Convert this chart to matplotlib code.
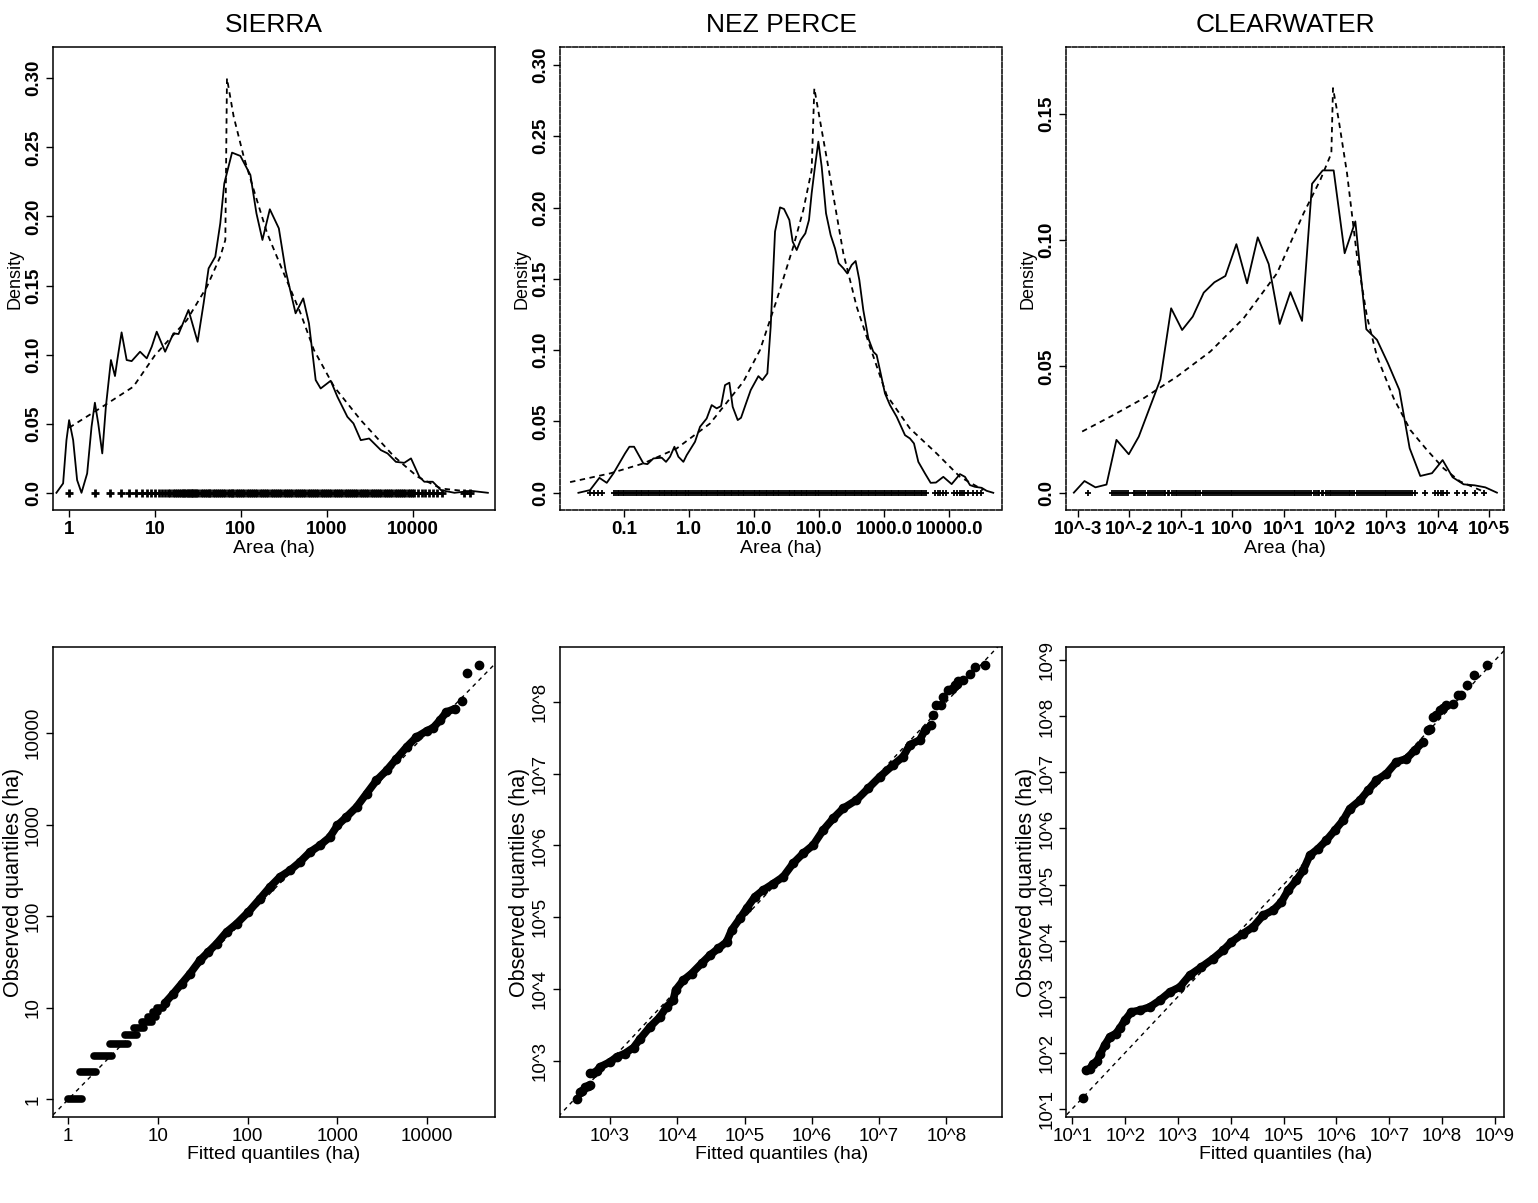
import numpy as np
import matplotlib.pyplot as plt
from matplotlib.ticker import NullLocator

plt.rcParams['font.family'] = ['Liberation Sans', 'DejaVu Sans']

# ---------------- density panels (x stored as log10 of area in ha) ----------------
sierra_kde_logA = [-0.148, -0.070, -0.031, 0.0, 0.047, 0.093, 0.144, 0.210, 0.261, 0.300, 0.339, 0.386,
                   0.428, 0.487, 0.534, 0.561, 0.611, 0.670, 0.728, 0.826, 0.904, 0.962, 1.020, 1.118,
                   1.215, 1.274, 1.390, 1.496, 1.566, 1.624, 1.702, 1.760, 1.807, 1.897, 1.994, 2.111,
                   2.181, 2.251, 2.337, 2.442, 2.520, 2.637, 2.726, 2.793, 2.871, 2.929, 3.046, 3.124,
                   3.240, 3.311, 3.396, 3.494, 3.630, 3.708, 3.805, 3.903, 3.981, 4.078, 4.136, 4.234,
                   4.331, 4.487, 4.682, 4.876]
sierra_kde = [0.0, 0.0068, 0.0381, 0.0526, 0.0381, 0.0092, 0.0, 0.014, 0.0478, 0.0652, 0.0502, 0.0285,
              0.0623, 0.0961, 0.0845, 0.0961, 0.1161, 0.0961, 0.0953, 0.1021, 0.0973, 0.1057, 0.1166, 0.1021,
              0.1154, 0.1149, 0.1323, 0.1093, 0.1371, 0.1624, 0.1709, 0.1950, 0.2240, 0.2462, 0.2438, 0.2300,
              0.2023, 0.1830, 0.2052, 0.1914, 0.1612, 0.1299, 0.1407, 0.1226, 0.0816, 0.0755, 0.0811, 0.0695,
              0.0550, 0.0502, 0.0381, 0.0393, 0.0309, 0.0285, 0.0224, 0.0217, 0.0249, 0.0116, 0.0080, 0.0080,
              0.0019, 0.0, 0.0014, 0.0]
sierra_fit_logA = [0.0, 0.358, 0.748, 1.001, 1.371, 1.605, 1.760, 1.819, 1.838, 1.916, 2.033, 2.150,
                   2.306, 2.500, 2.695, 2.851, 3.085, 3.396, 3.786, 4.058, 4.331, 4.720]
sierra_fit = [0.0471, 0.0611, 0.0768, 0.0997, 0.1250, 0.1492, 0.1709, 0.1830, 0.300, 0.2723, 0.2433, 0.2192,
              0.1878, 0.1588, 0.1299, 0.1033, 0.0768, 0.0526, 0.0261, 0.0116, 0.0031, 0.0005]
sierra_rug = [1, 2, 3, 4, 5, 6, 7, 8, 9, 10, 11, 12, 13, 14, 15, 16, 17, 18, 19, 20, 21, 22, 23, 24, 25,
              26, 27, 28, 29, 30, 32, 34, 36, 38, 40, 42, 44, 47, 50, 53, 56, 59, 62, 66, 70, 74, 78, 82,
              87, 92, 97, 103, 110, 117, 124, 131, 139, 147, 156, 165, 175, 186, 197, 209, 222, 235, 249,
              264, 280, 297, 315, 334, 354, 375, 398, 422, 447, 474, 502, 532, 564, 598, 634, 672, 712,
              755, 800, 848, 899, 953, 1010, 1070, 1135, 1200, 1275, 1350, 1430, 1520, 1610, 1705, 1810,
              1920, 2030, 2150, 2280, 2420, 2570, 2720, 2880, 3050, 3240, 3430, 3640, 3860, 4090, 4330,
              4590, 4870, 5160, 5470, 5800, 6150, 6520, 6910, 7320, 7760, 8230, 8720, 9250, 9800, 10400,
              11500, 12700, 14000, 15500, 17200, 19000, 22000, 40000, 47000]

nez_kde_logA = [-1.702, -1.523, -1.379, -1.266, -1.164, -0.985, -0.918, -0.846, -0.703, -0.641, -0.549,
                -0.421, -0.355, -0.293, -0.226, -0.165, -0.088, -0.037, 0.091, 0.168, 0.270, 0.347, 0.424,
                0.491, 0.552, 0.619, 0.670, 0.747, 0.798, 0.875, 0.947, 1.065, 1.126, 1.203, 1.254, 1.321,
                1.398, 1.459, 1.541, 1.592, 1.654, 1.715, 1.787, 1.843, 1.884, 1.935, 1.987, 2.038, 2.105,
                2.176, 2.243, 2.299, 2.371, 2.432, 2.499, 2.560, 2.617, 2.678, 2.755, 2.832, 2.883, 2.945,
                3.011, 3.088, 3.191, 3.319, 3.395, 3.457, 3.524, 3.626, 3.713, 3.795, 3.908, 4.036, 4.164,
                4.241, 4.318, 4.394, 4.497, 4.574, 4.676]
nez_kde = [0.0, 0.0019, 0.0105, 0.0070, 0.0136, 0.0276, 0.0323, 0.0323, 0.0206, 0.0201, 0.0241,
           0.0246, 0.0217, 0.0253, 0.0323, 0.0253, 0.0217, 0.0264, 0.0358, 0.0463, 0.0521, 0.0615, 0.0592,
           0.0608, 0.0755, 0.0772, 0.0603, 0.0510, 0.0526, 0.0627, 0.0720, 0.0818, 0.0790, 0.0837, 0.1164,
           0.1831, 0.2001, 0.1990, 0.1913, 0.1761, 0.1702, 0.1772, 0.1819, 0.1913, 0.2100, 0.2287, 0.2462,
           0.2287, 0.1959, 0.1807, 0.1714, 0.1609, 0.1574, 0.1538, 0.1597, 0.1625, 0.1492, 0.1281, 0.1083,
           0.0989, 0.0966, 0.0837, 0.0697, 0.0615, 0.0533, 0.0404, 0.0381, 0.0346, 0.0217, 0.0136, 0.0070,
           0.0072, 0.0112, 0.0061, 0.0131, 0.0112, 0.0054, 0.0042, 0.0035, 0.0014, 0.0]
nez_fit_logA = [-1.830, -1.215, -0.703, -0.191, 0.322, 0.834, 1.090, 1.346, 1.602, 1.756, 1.884, 1.925,
                2.038, 2.166, 2.371, 2.576, 2.781, 3.037, 3.395, 3.805, 4.164, 4.523]
nez_fit = [0.0075, 0.0136, 0.0206, 0.0311, 0.0486, 0.0779, 0.1001, 0.1351, 0.1726, 0.1983, 0.2263, 0.2836,
           0.2544, 0.2217, 0.1679, 0.1305, 0.1024, 0.0685, 0.0451, 0.0276, 0.0112, 0.0019]
nez_rug = [0.03, 0.035, 0.04, 0.045, 0.07, 0.075, 0.08, 0.085, 0.09, 0.095, 0.1, 0.107, 0.115, 0.123,
           0.132, 0.14, 0.15, 0.16, 0.17, 0.18, 0.19, 0.2, 0.215, 0.23, 0.245, 0.26, 0.28, 0.3, 0.32,
           0.34, 0.36, 0.38, 0.41, 0.43, 0.46, 0.49, 0.52, 0.55, 0.59, 0.62, 0.66, 0.7, 0.75, 0.8, 0.85,
           0.9, 0.95, 1.0, 1.07, 1.15, 1.22, 1.3, 1.4, 1.5, 1.6, 1.7, 1.8, 1.9, 2.05, 2.2, 2.35, 2.5,
           2.65, 2.8, 3.0, 3.2, 3.4, 3.6, 3.85, 4.1, 4.35, 4.6, 4.9, 5.2, 5.55, 5.9, 6.3, 6.7, 7.1,
           7.6, 8.1, 8.6, 9.2, 9.8, 10.4, 11, 11.7, 12.5, 13.3, 14, 15, 16, 17, 18, 19.2, 20.5, 21.8,
           23, 24.5, 26, 28, 30, 32, 34, 36, 38, 40.5, 43, 46, 49, 52, 55, 58.5, 62, 66, 70, 75, 80,
           85, 90, 95, 100, 107, 115, 122, 130, 140, 150, 160, 170, 180, 190, 203, 215, 230, 245, 262,
           280, 297, 315, 337, 360, 382, 405, 432, 460, 490, 520, 555, 590, 630, 670, 715, 760, 810,
           860, 920, 980, 1040, 1100, 1170, 1250, 1330, 1420, 1510, 1600, 1700, 1820, 1940, 2060,
           2190, 2330, 2480, 2640, 2820, 3000, 3200, 3400, 3620, 3850, 4100, 4350, 6000, 6600, 7200,
           8000, 8800, 12000, 13200, 14500, 15700, 17000, 19500, 23000, 27000, 31000]

clear_kde_logA = [-3.084, -2.877, -2.663, -2.448, -2.254, -2.014, -1.819, -1.624, -1.397, -1.189, -0.975,
                  -0.768, -0.554, -0.346, -0.132, 0.082, 0.290, 0.498, 0.712, 0.926, 1.134, 1.361, 1.556,
                  1.763, 1.977, 2.191, 2.399, 2.613, 2.821, 3.035, 3.256, 3.457, 3.664, 3.892, 4.099,
                  4.294, 4.508, 4.722, 4.930, 5.157]
clear_kde = [0.0, 0.0046, 0.0021, 0.0032, 0.0209, 0.0152, 0.0222, 0.0327, 0.0449, 0.0730, 0.0644,
             0.0697, 0.0792, 0.0833, 0.0858, 0.0984, 0.0829, 0.1011, 0.0905, 0.0668, 0.0794, 0.0680, 0.1223,
             0.1276, 0.1276, 0.0948, 0.1074, 0.0647, 0.0605, 0.0512, 0.0407, 0.0176, 0.0066, 0.0077, 0.0129,
             0.0061, 0.0033, 0.0029, 0.0021, 0.0]
clear_fit_logA = [-2.922, -2.371, -1.722, -1.073, -0.424, 0.225, 0.874, 1.393, 1.718, 1.932, 1.964, 2.075,
                  2.237, 2.432, 2.626, 2.821, 3.145, 3.470, 3.794, 4.119, 4.443, 4.898]
clear_fit = [0.0242, 0.0301, 0.0374, 0.0460, 0.0559, 0.0691, 0.0869, 0.1107, 0.1239, 0.1344, 0.1602, 0.1476,
             0.1265, 0.0935, 0.0697, 0.0539, 0.0374, 0.0248, 0.0169, 0.0096, 0.0044, 0.0004]
clear_rug = [0.00155, 0.0046, 0.005, 0.0055, 0.006, 0.0065, 0.0071, 0.0078, 0.0085, 0.0092, 0.012, 0.013,
             0.014, 0.0155, 0.017, 0.0185, 0.02, 0.0225, 0.025, 0.0275, 0.03, 0.033, 0.036, 0.039, 0.043,
             0.047, 0.05, 0.055, 0.06, 0.066, 0.072, 0.079, 0.086, 0.093, 0.1, 0.11, 0.12, 0.132, 0.145,
             0.157, 0.17, 0.185, 0.2, 0.22, 0.24, 0.265, 0.29, 0.32, 0.35, 0.385, 0.42, 0.46, 0.5, 0.55,
             0.6, 0.66, 0.72, 0.79, 0.86, 0.93, 1.0, 1.1, 1.2, 1.32, 1.45, 1.57, 1.7, 1.85, 2.0, 2.2, 2.4,
             2.65, 2.9, 3.2, 3.5, 3.85, 4.2, 4.6, 5, 5.5, 6, 6.6, 7.2, 7.9, 8.6, 9.3, 10, 11, 12, 13.2,
             14.5, 15.7, 17, 18.5, 20, 22, 24, 26.5, 29, 32, 35, 38.5, 42, 46, 50, 55, 60, 66, 72, 79,
             86, 93, 100, 110, 120, 132, 145, 157, 170, 185, 200, 220, 240, 265, 290, 320, 350, 385, 420,
             460, 500, 550, 600, 660, 720, 790, 860, 930, 1000, 1100, 1200, 1320, 1450, 1570, 1700, 1850,
             2000, 2200, 2400, 2650, 2900, 3200, 3600, 5760, 9000, 10200, 11500, 13000, 15000, 24000,
             35000, 54000, 79000]

# ---------------- QQ panels (log10 of fitted / observed quantiles) ----------------
sierra_step_obs = [1, 2, 3, 4, 5, 6, 7, 8, 9, 10]
sierra_step_lo = [1.0, 1.35, 1.93, 2.91, 4.28, 5.39, 6.55, 7.79, 8.85, 9.8]
sierra_step_hi = [1.41, 2.02, 3.09, 4.58, 5.77, 6.96, 8.48, 9.46, 10.0, 11.4]
sierra_qq_fit = [1.077, 1.17, 1.263, 1.356, 1.467, 1.56, 1.653, 1.764, 1.876, 2.006, 2.136, 2.247, 2.358,
                 2.47, 2.581, 2.693, 2.804, 2.915, 3.0, 3.10, 3.213, 3.324, 3.435, 3.547, 3.658, 3.77,
                 3.881, 3.993, 4.067, 4.141, 4.215, 4.308]
sierra_qq_obs = [1.052, 1.154, 1.263, 1.372, 1.518, 1.609, 1.70, 1.827, 1.918, 2.045, 2.191, 2.318, 2.428,
                 2.50, 2.591, 2.70, 2.773, 2.864, 2.992, 3.083, 3.192, 3.338, 3.483, 3.592, 3.72, 3.847,
                 3.956, 4.022, 4.058, 4.138, 4.229, 4.266]
sierra_tail_fit = [4.383, 4.446, 4.576]
sierra_tail_obs = [4.346, 4.655, 4.739]

nez_qq_fit = [2.70, 2.75, 2.80, 2.85, 3.0, 3.1, 3.22, 3.35, 3.45, 3.594, 3.743, 3.84, 3.94, 3.975, 4.09,
              4.213, 4.36, 4.485, 4.61, 4.733, 4.807, 4.93, 5.03, 5.153, 5.277, 5.426, 5.574, 5.72, 5.87,
              6.02, 6.168, 6.317, 6.465, 6.663, 6.837, 7.01, 7.208, 7.356, 7.455, 7.604, 7.68, 7.777]
nez_qq_obs = [2.83, 2.835, 2.86, 2.92, 2.99, 3.06, 3.107, 3.19, 3.315, 3.478, 3.617, 3.756, 3.85, 3.99,
              4.127, 4.22, 4.36, 4.475, 4.568, 4.66, 4.823, 4.985, 5.124, 5.287, 5.38, 5.47, 5.565, 5.75,
              5.89, 6.006, 6.214, 6.377, 6.516, 6.632, 6.794, 6.956, 7.119, 7.235, 7.40, 7.467, 7.605, 7.675]
nez_tail_fit = [2.505, 2.554, 2.58, 2.63, 2.67, 2.70, 7.80, 7.85, 7.925, 7.95, 8.03, 8.08, 8.12, 8.15,
                8.17, 8.248, 8.356, 8.42, 8.58]
nez_tail_obs = [2.48, 2.573, 2.59, 2.643, 2.65, 2.666, 7.82, 7.95, 7.96, 8.07, 8.16, 8.18, 8.23, 8.25,
                8.28, 8.30, 8.38, 8.487, 8.51]

clear_qq_fit = [1.25, 1.33, 1.39, 1.467, 1.53, 1.61, 1.707, 1.82, 1.896, 1.99, 2.117, 2.275, 2.465, 2.654,
                2.843, 3.033, 3.22, 3.443, 3.664, 3.854, 4.01, 4.232, 4.42, 4.61, 4.80, 4.958, 5.085,
                5.24, 5.369, 5.495, 5.653, 5.81, 5.968, 6.126, 6.253, 6.442, 6.60, 6.758, 6.947, 7.136,
                7.326, 7.483, 7.64]
clear_qq_obs = [1.684, 1.714, 1.80, 1.85, 1.98, 2.13, 2.28, 2.34, 2.43, 2.576, 2.725, 2.755, 2.814, 2.933,
                3.08, 3.17, 3.38, 3.528, 3.677, 3.826, 3.974, 4.123, 4.242, 4.45, 4.54, 4.69, 4.897,
                5.075, 5.253, 5.52, 5.64, 5.79, 5.967, 6.146, 6.354, 6.50, 6.68, 6.86, 6.98, 7.187,
                7.246, 7.395, 7.544]
clear_tail_fit = [1.202, 7.736, 7.78, 7.83, 7.88, 7.957, 8.02, 8.083, 8.21, 8.30, 8.35, 8.475, 8.60, 8.853]
clear_tail_obs = [1.19, 7.764, 7.78, 7.99, 8.02, 8.11, 8.15, 8.20, 8.228, 8.388, 8.388, 8.555, 8.746, 8.912]

titles = ["SIERRA", "NEZ PERCE", "CLEARWATER"]

fig = plt.figure(figsize=(15.38, 12.03), dpi=100)

lefts = [0.0345, 0.3641, 0.6934]
widths = [0.2874, 0.2876, 0.2846]

dash = (0, (3, 2.5))
TICK_TOP = dict(fontsize=13.5, fontweight="bold")


def style_axes(ax):
    ax.xaxis.set_minor_locator(NullLocator())
    ax.yaxis.set_minor_locator(NullLocator())
    ax.tick_params(direction="out", length=5, width=1, pad=3)
    for s in ax.spines.values():
        s.set_linewidth(1.1)


# ---- top row: densities
dens_sets = [
    (sierra_kde_logA, sierra_kde, sierra_fit_logA, sierra_fit, sierra_rug),
    (nez_kde_logA, nez_kde, nez_fit_logA, nez_fit, nez_rug),
    (clear_kde_logA, clear_kde, clear_fit_logA, clear_fit, clear_rug),
]
top_xlim = [(-0.187, 4.96), (-1.985, 4.815), (-3.228, 5.298)]
top_ylim = [(-0.0125, 0.3227), (-0.0121, 0.3126), (-0.0069, 0.1765)]
top_xticks = [
    ([1, 10, 100, 1000, 10000], ["1", "10", "100", "1000", "10000"]),
    ([0.1, 1, 10, 100, 1000, 10000], ["0.1", "1.0", "10.0", "100.0", "1000.0", "10000.0"]),
    ([10.0 ** k for k in range(-3, 6)], ["10^%d" % k for k in range(-3, 6)]),
]
top_yticks = [
    ([0, 0.05, 0.10, 0.15, 0.20, 0.25, 0.30], ["0.0", "0.05", "0.10", "0.15", "0.20", "0.25", "0.30"]),
    ([0, 0.05, 0.10, 0.15, 0.20, 0.25, 0.30], ["0.0", "0.05", "0.10", "0.15", "0.20", "0.25", "0.30"]),
    ([0, 0.05, 0.10, 0.15], ["0.0", "0.05", "0.10", "0.15"]),
]

for i, (klog, kd, flog, fd, rug) in enumerate(dens_sets):
    ax = fig.add_axes([lefts[i], 0.576, widths[i], 0.385])
    ax.set_xscale("log")
    ax.plot(np.power(10.0, klog), kd, color="black", lw=1.3)
    ax.plot(np.power(10.0, flog), fd, color="black", lw=1.3, linestyle=dash)
    if i == 0:
        ax.plot(rug, np.zeros(len(rug)), "+", color="black", ms=6, mew=2)
    else:
        ax.plot(rug, np.zeros(len(rug)), "+", color="black", ms=4, mew=1.3)
    ax.set_xlim(10 ** top_xlim[i][0], 10 ** top_xlim[i][1])
    ax.set_ylim(*top_ylim[i])
    ax.set_xticks(top_xticks[i][0])
    ax.set_xticklabels(top_xticks[i][1], **TICK_TOP)
    ax.set_yticks(top_yticks[i][0])
    ax.set_yticklabels(top_yticks[i][1], rotation=90, va="center", **TICK_TOP)
    style_axes(ax)
    if i > 0:
        for s in ax.spines.values():
            s.set_linestyle((0, (3, 1.2)))
    ax.set_xlabel("Area (ha)", fontsize=14, labelpad=1)
    ax.set_ylabel("Density", fontsize=13, labelpad=1)
    ax.set_title(titles[i], fontsize=19, pad=11)

# ---- bottom row: QQ plots
qq_sets = [
    (sierra_qq_fit, sierra_qq_obs, sierra_tail_fit, sierra_tail_obs),
    (nez_qq_fit, nez_qq_obs, nez_tail_fit, nez_tail_obs),
    (clear_qq_fit, clear_qq_obs, clear_tail_fit, clear_tail_obs),
]
bot_xlim = [(-0.17, 4.757), (2.257, 8.83), (0.886, 9.176)]
bot_ylim = [(-0.193, 4.94), (2.225, 8.76), (0.85, 9.24)]
bot_ticks = [
    ([1, 10, 100, 1000, 10000], ["1", "10", "100", "1000", "10000"]),
    ([10.0 ** k for k in range(3, 9)], ["10^%d" % k for k in range(3, 9)]),
    ([10.0 ** k for k in range(1, 10)], ["10^%d" % k for k in range(1, 10)]),
]

for i, (qf, qo, tf, to) in enumerate(qq_sets):
    ax = fig.add_axes([lefts[i], 0.0715, widths[i], 0.3907])
    ax.set_xscale("log")
    ax.set_yscale("log")
    lo = min(bot_xlim[i][0], bot_ylim[i][0]) - 0.5
    hi = max(bot_xlim[i][1], bot_ylim[i][1]) + 0.5
    ax.plot([10 ** lo, 10 ** hi], [10 ** lo, 10 ** hi], color="black", lw=1.0, linestyle=(0, (3, 3)))
    if i == 0:
        for y, a, b in zip(sierra_step_obs, sierra_step_lo, sierra_step_hi):
            ax.plot([a, b], [y, y], color="black", lw=5.5, solid_capstyle="round")
    ax.plot(np.power(10.0, qf), np.power(10.0, qo), color="black", lw=5.5,
            solid_capstyle="round", solid_joinstyle="round", marker="o", ms=6)
    ax.plot(np.power(10.0, tf), np.power(10.0, to), "o", color="black", ms=6)
    ax.set_xlim(10 ** bot_xlim[i][0], 10 ** bot_xlim[i][1])
    ax.set_ylim(10 ** bot_ylim[i][0], 10 ** bot_ylim[i][1])
    ax.set_xticks(bot_ticks[i][0])
    ax.set_xticklabels(bot_ticks[i][1], fontsize=13.5)
    ax.set_yticks(bot_ticks[i][0])
    ax.set_yticklabels(bot_ticks[i][1], fontsize=13.5, rotation=90, va="center")
    style_axes(ax)
    ax.set_xlabel("Fitted quantiles (ha)", fontsize=14, labelpad=1)
    ax.set_ylabel("Observed quantiles (ha)", fontsize=15.5, labelpad=1)

fig.savefig("out.png", dpi=100)
